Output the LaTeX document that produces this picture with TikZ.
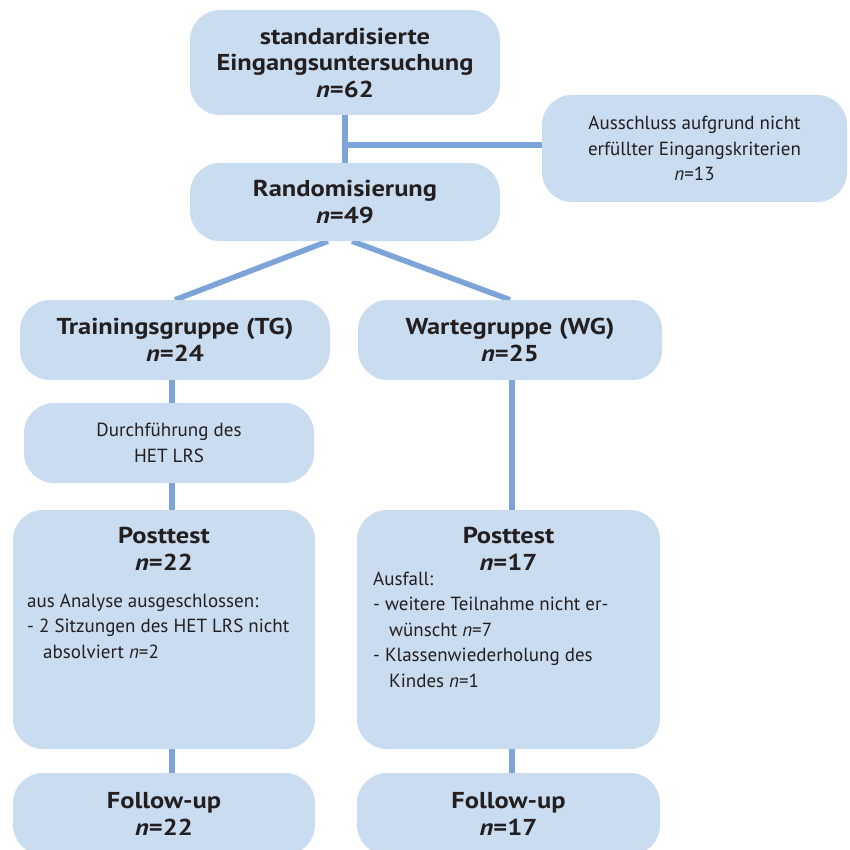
\documentclass[tikz,border=0pt]{standalone}
\usepackage{fontspec}
\setmainfont{PT Sans}[BoldFeatures={FakeStretch=1.15},
  BoldItalicFeatures={FakeStretch=1.15}]
\usetikzlibrary{positioning,backgrounds}
\definecolor{boxfill}{RGB}{202,220,240}
\definecolor{linkblue}{RGB}{124,164,216}
\definecolor{ink}{RGB}{35,31,32}

\begin{document}
\begin{tikzpicture}[
  x=1pt, y=-1pt,
  box/.style={fill=boxfill, rounded corners=30pt, align=center, text=ink,
    inner sep=0pt},
  head/.style={font=\fontsize{23}{26.5}\selectfont\bfseries, text=ink},
  small/.style={font=\fontsize{19}{25.5}\selectfont, text=ink},
  link/.style={draw=linkblue, line width=5.5pt}
]
\useasboundingbox (0,0) rectangle (849,850);
\node[box, head, minimum width=310, minimum height=105] (eingang) at (345,62.5)
  {standardisierte\\Eingangsuntersuchung\\\textit{n}=62};
\node[box, head, minimum width=310, minimum height=78] (rand) at (345,202)
  {Randomisierung\\\textit{n}=49};
\node[box, small, minimum width=305, minimum height=107] (aussch) at (694.5,148.5)
  {Ausschluss aufgrund nicht\\erfüllter Eingangskriterien\\\textit{n}=13};
\node[box, head, minimum width=310, minimum height=80] (tg) at (175,340)
  {Trainingsgruppe (TG)\\\textit{n}=24};
\node[box, head, minimum width=304, minimum height=80] (wg) at (510,340)
  {Wartegruppe (WG)\\\textit{n}=25};
\node[box, small, minimum width=290, minimum height=80] (durch) at (169,443)
  {Durchführung des\\HET LRS};
\node[box, minimum width=302, minimum height=239] (posttg) at (164,629.5) {};
\node[box, minimum width=303, minimum height=239] (postwg) at (508.5,629.5) {};
\node[box, head, minimum width=302, minimum height=82] (followtg) at (164,814)
  {Follow-up\\\textit{n}=22};
\node[box, head, minimum width=303, minimum height=82] (followwg) at (508.5,814)
  {Follow-up\\\textit{n}=17};
% texts inside the posttest boxes (base = last line)
\node[head, align=center, anchor=base] (posttgtitle) at (164,570)
  {Posttest\\\textit{n}=22};
\node[small, align=left, anchor=base west, inner sep=0pt] (posttgnote) at (27,658)
  {aus Analyse ausgeschlossen:\\- 2 Sitzungen des HET LRS nicht\\
   \hspace*{16pt}absolviert \textit{n}=2};
\node[head, align=center, anchor=base] (postwgtitle) at (508.5,570)
  {Posttest\\\textit{n}=17};
\node[small, align=left, anchor=base west, inner sep=0pt] (postwgnote) at (373,687)
  {Ausfall:\\- weitere Teilnahme nicht er-\\\hspace*{16pt}wünscht \textit{n}=7\\
   - Klassenwiederholung des\\\hspace*{16pt}Kindes \textit{n}=1};
\coordinate (split) at (345,145);
\begin{scope}[on background layer]
\draw[link] (eingang) -- (rand);
\draw[link] (split) -- (split -| aussch.west);
\draw[link] ([xshift=-17pt]rand.south) -- (tg.north);
\draw[link] ([xshift=7pt]rand.south) -- (wg.north);
\draw[link] ([xshift=-3pt]tg.south) -- ([xshift=3pt]durch.north);
\draw[link] ([xshift=3pt]durch.south) -- ([xshift=8pt]posttg.north);
\draw[link] ([xshift=8pt]posttg.south) -- ([xshift=8pt]followtg.north);
\draw[link] ([xshift=2pt]wg.south) -- ([xshift=3.5pt]postwg.north);
\draw[link] ([xshift=3.5pt]postwg.south) -- ([xshift=3.5pt]followwg.north);
\end{scope}
\end{tikzpicture}
\end{document}
